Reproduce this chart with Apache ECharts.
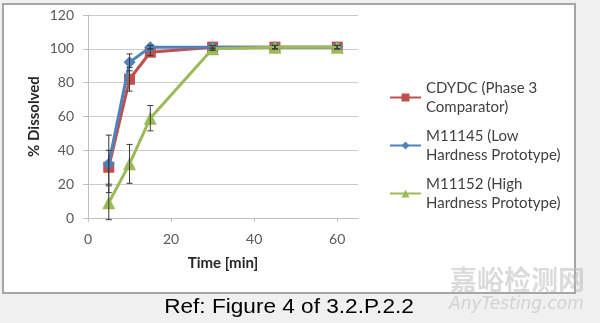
<!DOCTYPE html>
<html>
<head>
<meta charset="utf-8">
<script src="https://cdn.jsdelivr.net/npm/echarts@6/dist/echarts.min.js"></script>
<style>
html,body{margin:0;padding:0;background:#f0f0f0;}
#c{width:600px;height:323px;}
</style>
</head>
<body>
<div id="c"></div>
<script>
// ---- data ----
const times = [5, 10, 15, 30, 45, 60];
const seriesNames = ['CDYDC (Phase 3\nComparator)', 'M11145 (Low\nHardness Prototype)', 'M11152 (High\nHardness Prototype)'];
const cdydc = [30, 82, 98, 101, 101, 101];
const m11145 = [32, 92, 101, 101, 101, 101];
const m11152 = [9, 32, 59, 100, 101, 101];
const cdydcErr = [10, 7, 2, 1, 1, 1];
const m11145Err = [17, 5, 1, 1, 1, 1];
const m11152Err = [10, 11.5, 7.5, 1, 1, 1];
const xTicks = [0, 20, 40, 60];
const yTicks = [0, 20, 40, 60, 80, 100, 120];
const caption = 'Ref: Figure 4 of 3.2.P.2.2';

const colors = ['#c0504d', '#4f81bd', '#9bbb59'];
const symbols = ['rect', 'diamond', 'triangle'];
const symbolSizes = [11, 12, 13];
const values = [cdydc, m11145, m11152];
const errs = [cdydcErr, m11145Err, m11152Err];

const chart = echarts.init(document.getElementById('c'), null, {renderer: 'canvas'});

const lineSeries = values.map((v, i) => ({
  name: seriesNames[i],
  type: 'line',
  data: times.map((t, j) => [t, v[j]]),
  symbol: symbols[i],
  symbolSize: symbolSizes[i],
  showAllSymbol: true,
  lineStyle: {color: colors[i], width: 3},
  itemStyle: {color: colors[i]},
  z: 3 + i,
  animation: false
}));

const errSeries = values.map((v, i) => ({
  type: 'custom',
  name: 'err' + i,
  data: times.map((t, j) => [t, v[j] - errs[i][j], v[j] + errs[i][j]]),
  renderItem: function (params, api) {
    const x = api.value(0);
    const lo = api.coord([x, api.value(1)]);
    const hi = api.coord([x, api.value(2)]);
    const w = 3;
    const st = {stroke: '#3a3a3a', lineWidth: 1};
    return {
      type: 'group',
      children: [
        {type: 'line', shape: {x1: lo[0], y1: lo[1], x2: hi[0], y2: hi[1]}, style: st},
        {type: 'line', shape: {x1: lo[0] - w, y1: lo[1], x2: lo[0] + w, y2: lo[1]}, style: st},
        {type: 'line', shape: {x1: hi[0] - w, y1: hi[1], x2: hi[0] + w, y2: hi[1]}, style: st}
      ]
    };
  },
  z: 10,
  silent: true,
  animation: false
}));

const option = {
  animation: false,
  backgroundColor: '#f0f0f0',
  graphic: [
    {type: 'rect', z: -10, shape: {x: 3, y: 4, width: 572, height: 289}, style: {fill: '#ffffff', stroke: '#a6a6a6', lineWidth: 2}},
    {type: 'text', z: 100, x: 289, y: 307, scaleX: 1.13, originX: 0, originY: 0,
      style: {text: caption, font: '20px "Liberation Sans", Arial, sans-serif', fill: '#000000', textAlign: 'center', textVerticalAlign: 'middle'}},
    {type: 'text', z: 101, left: 450, top: 266, style: {text: '嘉峪检测网', font: 'bold 27px "Noto Sans CJK SC", sans-serif', fill: 'rgba(190,190,190,0.55)'}},
    {type: 'text', z: 101, left: 449, top: 296, style: {text: 'AnyTesting.com', font: 'italic 17px "DejaVu Sans", sans-serif', fill: 'rgba(190,190,190,0.6)'}}
  ],
  grid: {left: 88, right: 242, top: 15, bottom: 105, containLabel: false},
  xAxis: {
    type: 'value', min: 0, max: 65, interval: 20,
    name: 'Time [min]', nameLocation: 'middle', nameGap: 38,
    nameTextStyle: {fontFamily: 'Lato', fontWeight: 'bold', fontSize: 15, color: '#262626'},
    axisLine: {show: true, onZero: false, lineStyle: {color: '#bfbfbf', width: 1}},
    axisTick: {show: true, length: 4, lineStyle: {color: '#bfbfbf'}},
    axisLabel: {margin: 14, fontFamily: 'Lato', fontSize: 14, color: '#595959', showMaxLabel: false,
      formatter: v => xTicks.indexOf(v) >= 0 ? String(v) : ''},
    splitLine: {show: false}
  },
  yAxis: {
    type: 'value', min: 0, max: 120, interval: 20,
    name: '% Dissolved', nameLocation: 'middle', nameGap: 46, nameRotate: 90,
    nameTextStyle: {fontFamily: 'Lato', fontWeight: 'bold', fontSize: 15, color: '#262626'},
    axisLine: {show: true, lineStyle: {color: '#bfbfbf', width: 1}},
    axisTick: {show: true, length: 5, lineStyle: {color: '#bfbfbf'}},
    axisLabel: {margin: 14, fontFamily: 'Lato', fontSize: 14, color: '#595959',
      formatter: v => yTicks.indexOf(v) >= 0 ? String(v) : ''},
    splitLine: {show: true, lineStyle: {color: '#cccccc', width: 1}}
  },
  legend: {
    data: seriesNames,
    orient: 'vertical',
    left: 384, top: 64,
    itemWidth: 31, itemHeight: 10, itemGap: -9,
    textStyle: {fontFamily: 'Lato', fontSize: 15, color: '#404040', lineHeight: 19, padding: [19, 0, 0, 0]},
    selectedMode: false
  },
  series: lineSeries.concat(errSeries)
};
chart.setOption(option);
</script>
</body>
</html>
